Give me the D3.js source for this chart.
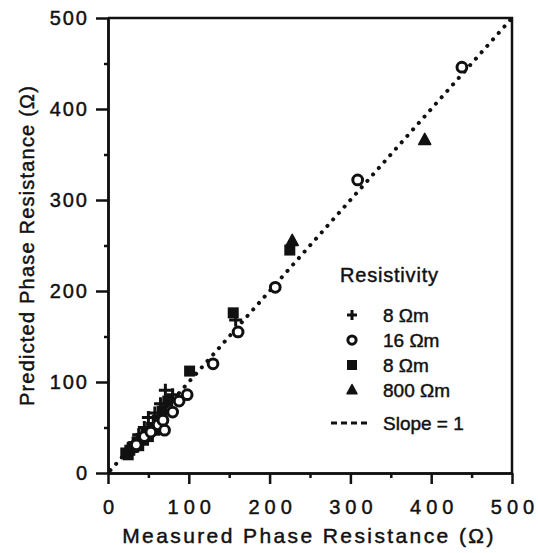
<!DOCTYPE html>
<html>
<head>
<meta charset="utf-8">
<script src="https://cdn.jsdelivr.net/npm/d3@7"></script>
<style>
  body { margin: 0; background: #fff; }
  svg { display: block; font-family: "Liberation Sans", Arial, sans-serif; }
  svg text { stroke: #111; stroke-width: 0.45px; }
  .tick text { font-size: 20px; fill: #111; }
</style>
</head>
<body>
<svg id="chart" width="538" height="553"></svg>
<script>
// measured vs predicted phase resistance (ohm)
const plusPts = [[25,25],[32,33],[38,42],[45,50],[50,61],[58,66],[65,76],[71,91],[80,86],[158,168]];
const circlePts = [[35,31],[45,40],[53,45],[62,53],[70,47],[68,58],[80,67],[88,79],[98,86],[130,120],[161,155],[207,204],[309,322],[438,446]];
const squarePts = [[22,22],[25,20],[27,25],[30,28],[32,29],[36,34],[38,30],[41,38],[44,36],[47,43],[50,40],[54,50],[58,47],[61,58],[67,68],[74,79],[101,112],[155,176],[225,245]];
const trianglePts = [[30,28],[228,255],[392,366]];
const majorTicks = [0, 100, 200, 300, 400, 500];
const minorTicks = [50, 150, 250, 350, 450];
const legendItems = [
  {sym: "plus", label: "8 Ωm"},
  {sym: "circle", label: "16 Ωm"},
  {sym: "square", label: "8 Ωm"},
  {sym: "triangle", label: "800 Ωm"},
  {sym: "line", label: "Slope = 1"}
];

const svg = d3.select("#chart");
const ink = "#111";

const x = d3.scaleLinear().domain([0, 500]).range([108, 512]);
const y = d3.scaleLinear().domain([0, 500]).range([473, 18]);

// frame top/right
svg.append("path")
  .attr("d", `M${x(0)},${y(500)}H${x(500)}V${y(0)}`)
  .attr("fill", "none").attr("stroke", ink).attr("stroke-width", 2.5);

// axes
const xAxis = svg.append("g").attr("transform", `translate(0,${y(0)})`)
  .call(d3.axisBottom(x).tickValues(majorTicks).tickSize(11).tickPadding(16).tickSizeOuter(0));
svg.append("g").attr("transform", `translate(0,${y(0)})`)
  .call(d3.axisBottom(x).tickValues(minorTicks).tickSize(5).tickFormat("").tickSizeOuter(0));
const yAxis = svg.append("g").attr("transform", `translate(${x(0)},0)`)
  .call(d3.axisLeft(y).tickValues(majorTicks).tickSize(12).tickPadding(7).tickSizeOuter(0));
svg.append("g").attr("transform", `translate(${x(0)},0)`)
  .call(d3.axisLeft(y).tickValues(minorTicks).tickSize(4).tickFormat("").tickSizeOuter(0));

svg.selectAll(".domain").attr("stroke", ink).attr("stroke-width", 2.5);
svg.selectAll(".tick line").attr("stroke", ink).attr("stroke-width", 2.5);
xAxis.selectAll(".tick text").attr("letter-spacing", 5).attr("dx", 2.5);
yAxis.selectAll(".tick text").attr("font-size", 21).attr("letter-spacing", 2);

// axis titles
svg.append("text")
  .attr("x", 309).attr("y", 543)
  .attr("text-anchor", "middle")
  .attr("font-size", 21).attr("letter-spacing", 2.4).attr("fill", ink)
  .text("Measured Phase Resistance (Ω)");
svg.append("text")
  .attr("transform", `translate(34,${y(250)})rotate(-90)`)
  .attr("text-anchor", "middle")
  .attr("font-size", 20).attr("letter-spacing", 1.2).attr("fill", ink)
  .text("Predicted Phase Resistance (Ω)");

// slope = 1 reference
svg.append("line")
  .attr("x1", x(3)).attr("y1", y(3)).attr("x2", x(500)).attr("y2", y(500))
  .attr("stroke", ink).attr("stroke-width", 4)
  .attr("stroke-linecap", "round").attr("stroke-dasharray", "0.1 8.5");

// marker drawers
function drawSym(g, sym, s) {
  if (sym === "plus") {
    g.append("path").attr("d", `M${-s},0H${s}M0,${-s}V${s}`)
      .attr("stroke", ink).attr("stroke-width", 3).attr("fill", "none");
  } else if (sym === "circle") {
    g.append("circle").attr("r", s * 0.75)
      .attr("fill", "#fff").attr("stroke", ink).attr("stroke-width", 3);
  } else if (sym === "square") {
    g.append("rect").attr("x", -s).attr("y", -s).attr("width", 2 * s).attr("height", 2 * s)
      .attr("fill", ink);
  } else if (sym === "triangle") {
    g.append("path").attr("d", `M0,${-s * 1.1}L${s},${s * 0.75}L${-s},${s * 0.75}Z`)
      .attr("fill", ink).attr("stroke", ink).attr("stroke-width", 1.5).attr("stroke-linejoin", "round");
  }
}

const series = [
  {sym: "square", pts: squarePts, s: 5.5},
  {sym: "plus", pts: plusPts, s: 6.5},
  {sym: "triangle", pts: trianglePts, s: 6},
  {sym: "circle", pts: circlePts, s: 6.5}
];
series.forEach(sr => {
  svg.append("g").selectAll("g")
    .data(sr.pts)
    .join("g")
    .attr("transform", d => `translate(${x(d[0])},${y(d[1])})`)
    .each(function() { drawSym(d3.select(this), sr.sym, sr.s); });
});

// legend
const legend = svg.append("g");
legend.append("text")
  .attr("x", 340).attr("y", 282)
  .attr("font-size", 20).attr("letter-spacing", 0.8).attr("fill", ink)
  .text("Resistivity");
const rowY = [322, 347, 372, 397, 430];
legendItems.forEach((it, i) => {
  const g = legend.append("g").attr("transform", `translate(352,${rowY[i] - 7})`);
  if (it.sym === "line") {
    g.append("line").attr("x1", -21).attr("x2", 16).attr("y1", 0).attr("y2", 0)
      .attr("stroke", ink).attr("stroke-width", 3).attr("stroke-dasharray", "6 4");
  } else {
    drawSym(g, it.sym, it.sym === "circle" ? 5.5 : 5);
  }
  legend.append("text")
    .attr("x", 383).attr("y", rowY[i])
    .attr("font-size", 19).attr("fill", ink)
    .text(it.label);
});
</script>
</body>
</html>
